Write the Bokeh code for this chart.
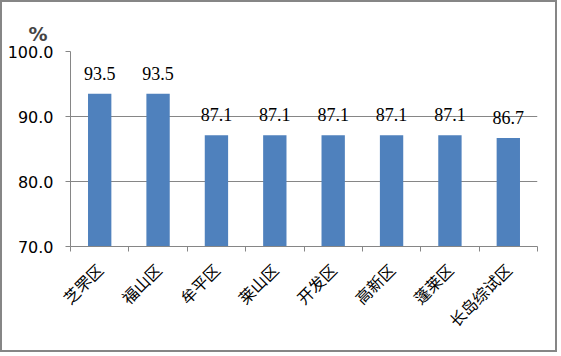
import math
from bokeh.plotting import figure
from bokeh.models import (Range1d, FixedTicker, LinearAxis, ColumnDataSource, LabelSet,
                          NumeralTickFormatter, Grid)
from bokeh.embed import file_html
from bokeh.resources import INLINE

categories = ["芝罘区", "福山区", "牟平区", "莱山区", "开发区", "高新区", "蓬莱区", "长岛综试区"]
values = [93.5, 93.5, 87.1, 87.1, 87.1, 87.1, 87.1, 86.7]
value_labels = ["93.5", "93.5", "87.1", "87.1", "87.1", "87.1", "87.1", "86.7"]
y_ticks = [70, 80, 90, 100]
unit_label = "%"

GRAY = "#868686"
BAR = "#4F81BD"

n = len(categories)
centers = [i + 0.5 for i in range(n)]
bounds = list(range(n + 1))
src = ColumnDataSource(dict(x=centers, val=values, lab=value_labels))

p = figure(width=557, height=352, x_range=Range1d(0, n), y_range=Range1d(70, 100),
           output_backend="svg", toolbar_location=None, x_axis_location=None, y_axis_location=None,
           min_border_left=68, min_border_right=22, min_border_top=49, min_border_bottom=108)
p.outline_line_color = None
p.background_fill_color = "white"
p.border_fill_color = "white"
p.styles = {"border": "2px solid #868686", "margin": "0px"}
for g in p.grid:
    g.visible = False

p.title.text = unit_label
p.title.text_font = "DejaVu Sans"
p.title.text_font_style = "bold"
p.title.text_font_size = "19px"
p.title.align = "left"
p.title.offset = -42
p.title.standoff = 13

p.vbar(x="x", top="val", bottom=70, width=0.4, source=src, color=BAR, line_color=None)

# y axis
ya = LinearAxis(ticker=FixedTicker(ticks=y_ticks), formatter=NumeralTickFormatter(format="0.0"))
ya.axis_line_color = GRAY
ya.major_tick_line_color = GRAY
ya.major_tick_out = 5
ya.major_tick_in = 0
ya.minor_tick_line_color = None
ya.major_label_text_font = "DejaVu Sans"
ya.major_label_text_font_size = "16px"
ya.major_label_text_color = "black"
ya.major_label_standoff = 12
p.add_layout(ya, "left")

# x axis: labels at centers, tick marks (minor) at category boundaries
xa = LinearAxis(ticker=FixedTicker(ticks=centers, minor_ticks=bounds),
                major_label_overrides={c: cat for c, cat in zip(centers, categories)})
xa.axis_line_color = GRAY
xa.major_tick_line_color = None
xa.minor_tick_line_color = GRAY
xa.minor_tick_out = 5
xa.minor_tick_in = 0
xa.major_label_orientation = math.pi / 4
xa.major_label_text_font = "Noto Sans CJK SC"
xa.major_label_text_font_size = "16px"
xa.major_label_text_color = "black"
xa.major_label_standoff = 14
p.add_layout(xa, "below")

p.add_layout(Grid(dimension=1, ticker=ya.ticker, grid_line_color=GRAY))

labels = LabelSet(x="x", y="val", text="lab", source=src, y_offset=14, text_align="center",
                  text_baseline="alphabetic", text_font="DejaVu Sans", text_font_size="18px",
                  text_color="black")
p.add_layout(labels)

open("out.html", "w").write(file_html(p, INLINE))
